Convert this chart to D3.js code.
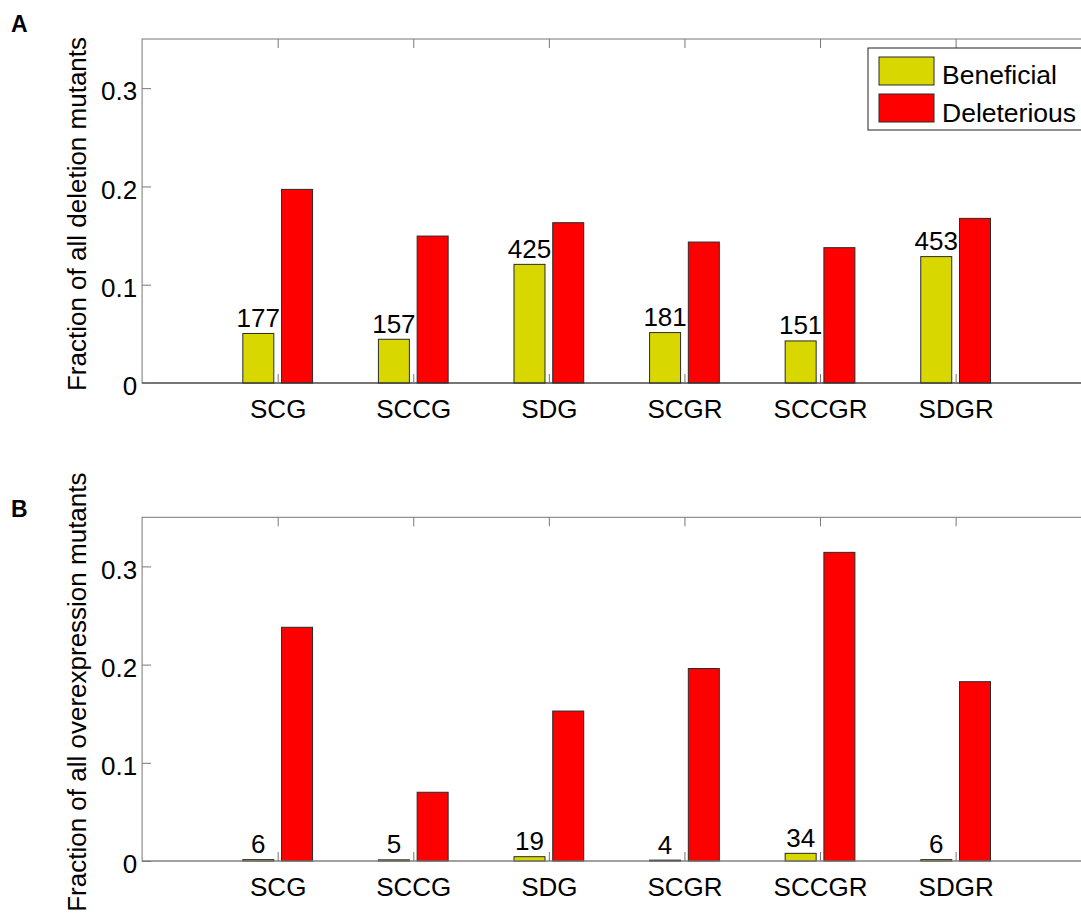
<!DOCTYPE html>
<html>
<head>
<meta charset="utf-8">
<script src="https://cdn.jsdelivr.net/npm/d3@7"></script>
<style>
  body { margin: 0; background: #fff; }
  svg { display: block; font-family: "Liberation Sans", Arial, sans-serif; }
</style>
</head>
<body>
<svg width="1081" height="918"></svg>
<script>
// Data
const categories = ["SCG", "SCCG", "SDG", "SCGR", "SCCGR", "SDGR"];
const seriesNames = ["Beneficial", "Deleterious"];
const seriesColors = ["#d8d800", "#ff0000"];

const delBeneficial = [0.0504, 0.0445, 0.1207, 0.0513, 0.0428, 0.1286];
const delDeleterious = [0.197, 0.1495, 0.1631, 0.1434, 0.1377, 0.1675];
const delCounts = [177, 157, 425, 181, 151, 453];

const ovBeneficial = [0.0014, 0.0012, 0.0044, 0.0009, 0.0078, 0.0014];
const ovDeleterious = [0.238, 0.070, 0.1527, 0.196, 0.3143, 0.1826];
const ovCounts = [6, 5, 19, 4, 34, 6];

const yTicks = [0, 0.1, 0.2, 0.3];

const svg = d3.select("svg");
const fontSize = 26;

// shared x scale: categories sit at 1..6, axis spans 0..7 (right side runs off the page)
const x = d3.scaleLinear().domain([0, 7]).range([142.1, 1091.2]);
const barW = 0.2286;
const offsets = [-1 / 7, 1 / 7];

function drawPanel(opts) {
  const y = d3.scaleLinear().domain([0, 0.35]).range([opts.bottom, opts.top]);
  const g = svg.append("g");

  // frame
  g.append("rect")
    .attr("x", x(0)).attr("y", y(0.35))
    .attr("width", x(7) - x(0)).attr("height", y(0) - y(0.35))
    .attr("fill", "none").attr("stroke", "#777").attr("stroke-width", 1);

  // bars
  const series = [opts.benef, opts.delet];
  series.forEach((vals, s) => {
    g.selectAll(null)
      .data(vals)
      .enter().append("rect")
      .attr("x", (d, i) => x(i + 1 + offsets[s] - barW / 2))
      .attr("width", x(barW) - x(0))
      .attr("y", d => y(d))
      .attr("height", d => y(0) - y(d))
      .attr("fill", seriesColors[s])
      .attr("stroke", "#2a2a2a")
      .attr("stroke-width", 1);
  });

  // baseline
  g.append("line")
    .attr("x1", x(0)).attr("x2", x(7))
    .attr("y1", y(0)).attr("y2", y(0))
    .attr("stroke", opts.baseColor).attr("stroke-width", 1.2);

  // count labels above beneficial bars
  g.selectAll(null)
    .data(opts.benef)
    .enter().append("text")
    .attr("x", (d, i) => x(i + 1 + offsets[0]))
    .attr("y", d => y(d) - 6.5)
    .attr("text-anchor", "middle")
    .attr("font-size", fontSize)
    .text((d, i) => opts.counts[i]);

  // x axis, ticks inward
  const xAxis = g.append("g")
    .attr("transform", `translate(0,${y(0)})`)
    .call(d3.axisBottom(x)
      .tickValues(d3.range(1, categories.length + 1))
      .tickFormat(i => categories[i - 1])
      .tickSize(-9)
      .tickPadding(16.5));
  g.append("g")
    .attr("transform", `translate(0,${y(0.35)})`)
    .call(d3.axisTop(x)
      .tickValues(d3.range(1, categories.length + 1))
      .tickFormat("")
      .tickSize(-9));

  // y axis
  const yAxis = g.append("g")
    .attr("transform", `translate(${x(0)},0)`)
    .call(d3.axisLeft(y)
      .tickValues(yTicks)
      .tickFormat(d => d === 0 ? "0" : d3.format(".1f")(d))
      .tickSize(-9)
      .tickPadding(5));
  yAxis.selectAll(".tick text").attr("dy", "0.45em");

  g.selectAll(".domain").remove();
  g.selectAll(".tick line").attr("stroke", "#777");
  g.selectAll(".tick text")
    .attr("font-size", fontSize)
    .attr("font-family", "\"Liberation Sans\", Arial, sans-serif")
    .attr("fill", "#000");

  // y label
  g.append("text")
    .attr("transform", `translate(86,${(y(0) + y(0.35)) / 2 + 3}) rotate(-90)`)
    .attr("text-anchor", "middle")
    .attr("font-size", fontSize)
    .text(opts.ylabel);

  // panel letter
  svg.append("text")
    .attr("x", 11).attr("y", opts.letterY)
    .attr("font-size", 23).attr("font-weight", "bold")
    .text(opts.letter);
}

drawPanel({
  top: 39, bottom: 383,
  benef: delBeneficial, delet: delDeleterious, counts: delCounts,
  ylabel: "Fraction of all deletion mutants",
  letter: "A", letterY: 32, baseColor: "#333"
});

drawPanel({
  top: 517.3, bottom: 861,
  benef: ovBeneficial, delet: ovDeleterious, counts: ovCounts,
  ylabel: "Fraction of all overexpression mutants",
  letter: "B", letterY: 517, baseColor: "#888"
});

// legend (box runs off the right edge)
const legend = svg.append("g").attr("transform", "translate(868,48)");
legend.append("rect")
  .attr("width", 240).attr("height", 82)
  .attr("fill", "#fff").attr("stroke", "#222").attr("stroke-width", 1);
seriesNames.forEach((name, i) => {
  legend.append("rect")
    .attr("x", 11).attr("y", 9 + i * 37)
    .attr("width", 55).attr("height", 28)
    .attr("fill", seriesColors[i]).attr("stroke", "#2a2a2a");
  legend.append("text")
    .attr("x", 74).attr("y", 36 + i * 38)
    .attr("font-size", 26.5)
    .text(name);
});
</script>
</body>
</html>
